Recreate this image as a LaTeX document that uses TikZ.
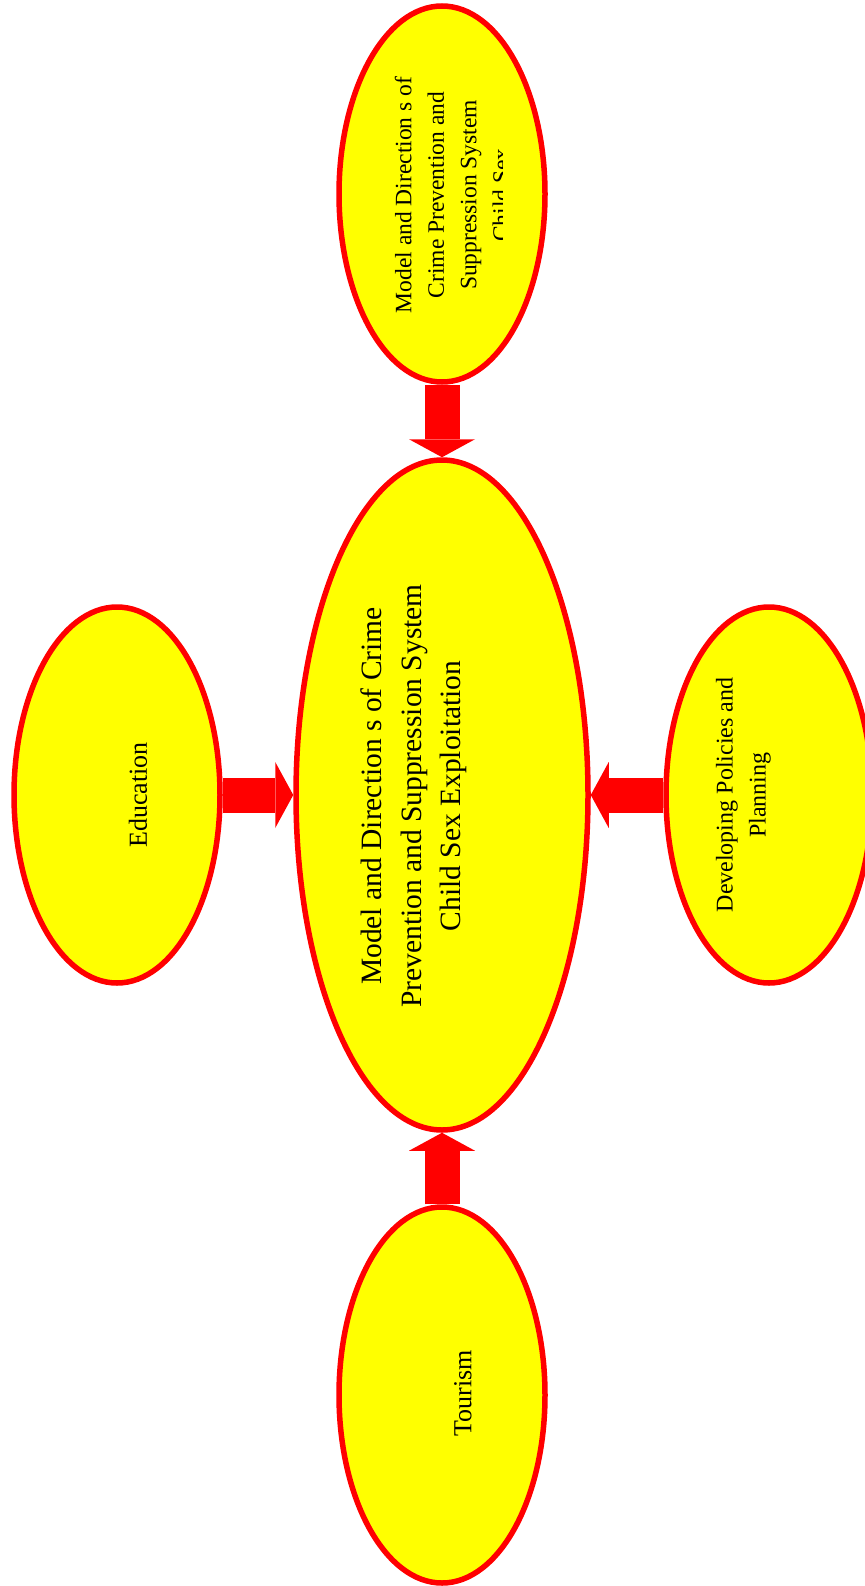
\documentclass[tikz,border=0pt]{standalone}
\usepackage{fontspec}
\setmainfont{Liberation Serif}
\usetikzlibrary{arrows.meta, shapes.geometric}

\definecolor{bubblefill}{RGB}{255,255,0}
\definecolor{bubbleline}{RGB}{255,0,0}

\begin{document}
\begin{tikzpicture}[
            x = 1pt, y = -1pt, % one unit per pixel, y pointing down
            > = {Triangle[width=66pt, length=18pt, line width=0pt]}, % block arrow head
            semithick % line style
        ]

        \tikzstyle{bubble}=[
            ellipse,
            draw = bubbleline,
            line width = 5.5pt,
            fill = bubblefill,
            inner sep = 0pt,
            minimum width = 206pt,
            minimum height = 376pt
        ]
        \tikzstyle{bigbubble}=[
            bubble,
            minimum width = 292pt,
            minimum height = 670pt
        ]
        \tikzstyle{fatarrow}=[
            ->,
            draw = bubbleline,
            line width = 35pt
        ]
        \tikzstyle{caption}=[
            rotate = 90,
            align = center,
            inner sep = 0pt
        ]

        \useasboundingbox (0,0) rectangle (864,1586);

        \node[bigbubble] (model) at (442,795) {};
        \node[bubble] (modtop) at (442,194) {};
        \node[bubble] (edu) at (117,795) {};
        \node[bubble] (devel) at (769,795) {};
        \node[bubble] (tour) at (442,1395) {};

        \path (modtop) edge[fatarrow] (model);
        \path (edu) edge[fatarrow] (model);
        \path (devel) edge[fatarrow] (model);
        \path (tour) edge[fatarrow] (model);

        \node[caption, font=\fontsize{29.5}{39.5}\selectfont] (modeltext) at (414,796)
            {Model and Direction s of Crime\\Prevention and Suppression System\\Child Sex Exploitation};
        \begin{scope}
            \clip (330,0) rectangle (502,390);
            \node[caption, font=\fontsize{23.5}{32.5}\selectfont] (toptext) at (452,195)
                {Model and Direction s of\\Crime Prevention and\\Suppression System\\Child Sex};
        \end{scope}
        \node[caption, font=\fontsize{26}{31}\selectfont] (edutext) at (138,795) {Education};
        \node[caption, font=\fontsize{24}{33}\selectfont] (develtext) at (743.5,795)
            {Developing Policies and\\Planning};
        \node[caption, font=\fontsize{26}{31}\selectfont] (tourtext) at (463,1393) {Tourism};
    \end{tikzpicture}
\end{document}
